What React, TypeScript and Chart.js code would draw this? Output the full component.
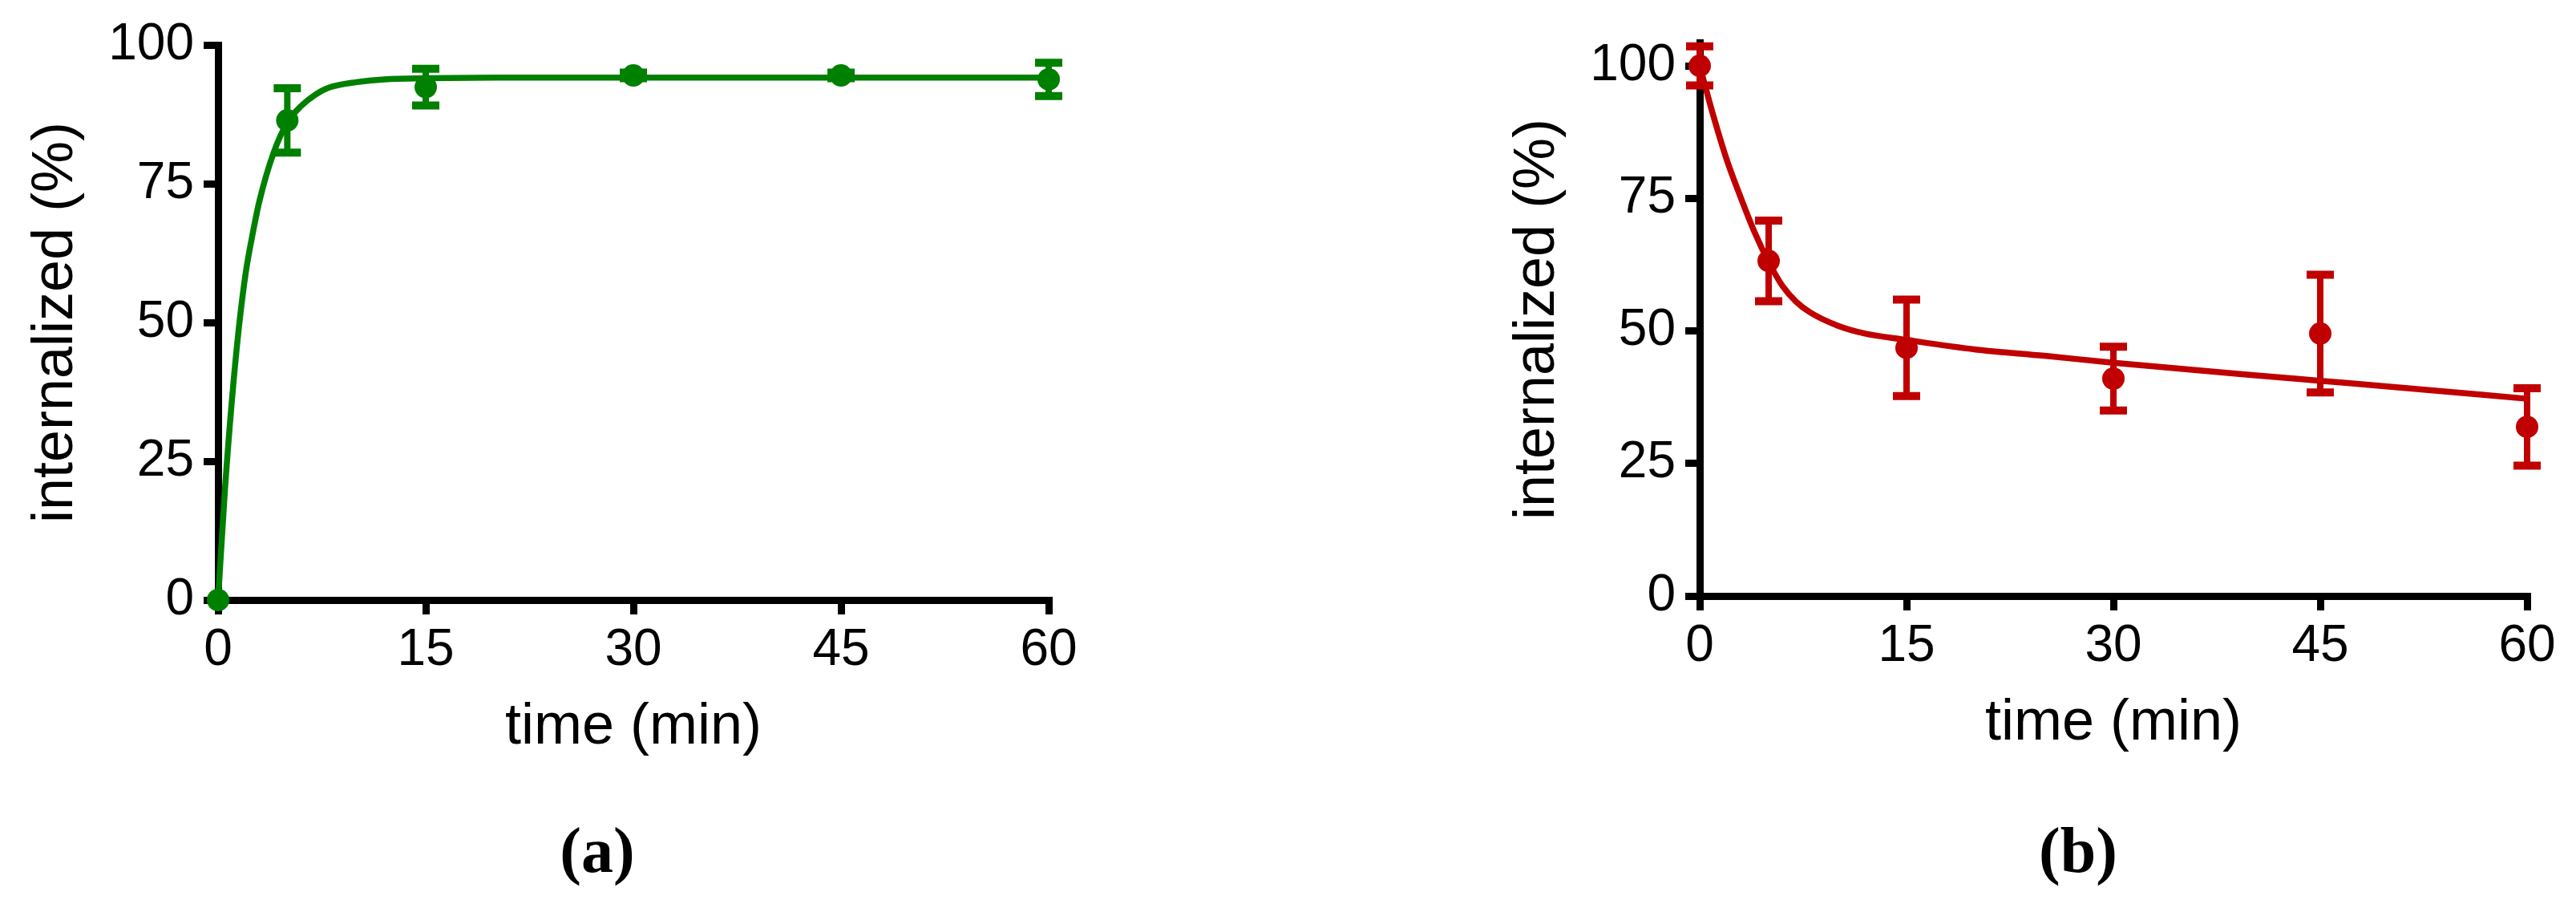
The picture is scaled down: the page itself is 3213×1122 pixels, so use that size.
import React, { useEffect, useRef } from "react";
import { Chart, registerables } from "chart.js";

Chart.register(...registerables);

// ---------- data ----------
const timePoints = [0, 5, 15, 30, 45, 60];

const meanA = [0, 86.4, 92.4, 94.5, 94.5, 93.8];
const semA = [0, 5.8, 3.3, 0.5, 0.5, 3.0];
const fitTimeA = [0, 0.5, 1, 1.5, 2, 2.5, 3, 4, 5, 6, 7, 8, 10, 12, 15, 20, 30, 45, 60];
const fitValA = [0, 20, 36, 49, 59, 66, 72, 80.5, 86, 89, 91, 92.3, 93.3, 93.8, 94, 94.1, 94.1, 94.1, 94.1];

const meanB = [100, 63.2, 46.8, 41, 49.5, 31.9];
const semB = [3.7, 7.6, 9.1, 6.0, 11.1, 7.3];
const fitTimeB = [0, 1, 2, 3, 4, 5, 6, 7, 8, 10, 12, 15, 20, 25, 30, 40, 45, 50, 60];
const fitValB = [100, 90.5, 82, 75, 68.5, 63, 58.5, 55.5, 53.5, 51, 49.5, 48.3, 46.5, 45.3, 44, 41.7, 40.6, 39.5, 37.2];

const xTicks = [0, 15, 30, 45, 60];
const yTicks = [0, 25, 50, 75, 100];

const xTitle = "time (min)";
const yTitle = "internalized (%)";

const GREEN = "#008000";
const RED = "#C00000";
const FONT = "'Liberation Sans', Arial, sans-serif";

type PanelProps = {
  width: number;
  height: number;
  means: number[];
  sems: number[];
  fitT: number[];
  fitV: number[];
  color: string;
  yMax: number;
  padTop: number;
  padRight: number;
  yAxisWidth: number;
  xAxisHeight: number;
};

const errorBarPlugin = {
  id: "errorBars",
  afterDatasetsDraw(chart: any) {
    const cfg = chart.options.plugins.errorBars;
    if (!cfg) return;
    const { ctx, scales } = chart;
    const xs = scales.x;
    const ys = scales.y;
    ctx.save();
    ctx.strokeStyle = cfg.color;
    ctx.lineCap = "butt";
    cfg.x.forEach((t: number, i: number) => {
      const e = cfg.err[i];
      if (!e) return;
      const px = xs.getPixelForValue(t);
      const top = ys.getPixelForValue(cfg.y[i] + e);
      const bot = ys.getPixelForValue(cfg.y[i] - e);
      ctx.lineWidth = 8;
      ctx.beginPath();
      ctx.moveTo(px, top);
      ctx.lineTo(px, bot);
      ctx.stroke();
      ctx.lineWidth = 10;
      ctx.beginPath();
      ctx.moveTo(px - 17, top);
      ctx.lineTo(px + 17, top);
      ctx.moveTo(px - 17, bot);
      ctx.lineTo(px + 17, bot);
      ctx.stroke();
    });
    ctx.restore();
  },
};

function Panel(props: PanelProps) {
  const ref = useRef<HTMLCanvasElement | null>(null);
  useEffect(() => {
    if (!ref.current) return;
    const p = props;
    const axisCommon = {
      border: { display: true, color: "#000", width: 9 },
      grid: {
        display: true,
        drawOnChartArea: false,
        drawTicks: true,
        tickLength: 18,
        color: "#000",
        lineWidth: 9,
        tickWidth: 9,
      },
    };
    const chart = new Chart(ref.current, {
      type: "scatter",
      data: {
        datasets: [
          {
            type: "line",
            data: p.fitT.map((t, i) => ({ x: t, y: p.fitV[i] })),
            borderColor: p.color,
            borderWidth: 7.5,
            pointRadius: 0,
            fill: false,
            cubicInterpolationMode: "monotone",
            clip: false,
            order: 2,
          } as any,
          {
            type: "scatter",
            data: timePoints.map((t, i) => ({ x: t, y: p.means[i] })),
            backgroundColor: p.color,
            borderColor: p.color,
            pointRadius: 14,
            radius: 14,
            pointBorderWidth: 0,
            clip: false,
            order: 1,
          } as any,
        ],
      },
      options: {
        animation: false,
        responsive: false,
        maintainAspectRatio: false,
        devicePixelRatio: 1,
        layout: { padding: { top: p.padTop, right: p.padRight, left: 0, bottom: 0 } },
        plugins: {
          legend: { display: false },
          tooltip: { enabled: false },
          errorBars: { x: timePoints, y: p.means, err: p.sems, color: p.color },
        } as any,
        scales: {
          x: {
            type: "linear",
            min: 0,
            max: 60,
            ...axisCommon,
            afterBuildTicks: (s: any) => {
              s.ticks = xTicks.map((v) => ({ value: v }));
            },
            afterFit: (s: any) => {
              s.height = p.xAxisHeight;
            },
            ticks: {
              color: "#000",
              font: { family: FONT, size: 64 },
              padding: 7,
              maxRotation: 0,
              autoSkip: false,
            },
            title: {
              display: true,
              text: xTitle,
              color: "#000",
              font: { family: FONT, size: 72 },
              padding: { top: 0, bottom: 0 },
            },
          },
          y: {
            type: "linear",
            min: 0,
            max: p.yMax,
            ...axisCommon,
            afterBuildTicks: (s: any) => {
              s.ticks = yTicks.map((v) => ({ value: v }));
            },
            afterFit: (s: any) => {
              s.width = p.yAxisWidth;
            },
            ticks: {
              color: "#000",
              font: { family: FONT, size: 64 },
              padding: 12,
              autoSkip: false,
            },
            title: {
              display: true,
              text: yTitle,
              color: "#000",
              font: { family: FONT, size: 72 },
              padding: { top: 27, bottom: 0 },
            },
          },
        },
      } as any,
      plugins: [errorBarPlugin],
    });
    return () => chart.destroy();
  }, []);
  return (
    <canvas
      ref={ref}
      width={props.width}
      height={props.height}
      style={{ display: "block", width: props.width, height: props.height }}
    />
  );
}

export default function App() {
  useEffect(() => {
    document.body.style.margin = "0";
    document.body.style.overflow = "hidden";
  }, []);
  const labelStyle: React.CSSProperties = {
    position: "absolute",
    top: 1020,
    width: 200,
    textAlign: "center",
    fontFamily: "'Liberation Serif', 'Times New Roman', serif",
    fontWeight: "bold",
    fontSize: 80,
    lineHeight: "80px",
    color: "#000",
  };
  return (
    <div style={{ position: "absolute", left: 0, top: 0, width: 3213, height: 1122, background: "#fff" }}>
      <div style={{ position: "absolute", left: 0, top: 0, width: 1500, height: 950 }}>
        <Panel
          width={1500}
          height={950}
          means={meanA}
          sems={semA}
          fitT={fitTimeA}
          fitV={fitValA}
          color={GREEN}
          yMax={100}
          padTop={56}
          padRight={192}
          yAxisWidth={272}
          xAxisHeight={202}
        />
      </div>
      <div style={{ position: "absolute", left: 1848, top: 0, width: 1365, height: 945 }}>
        <Panel
          width={1365}
          height={945}
          means={meanB}
          sems={semB}
          fitT={fitTimeB}
          fitV={fitValB}
          color={RED}
          yMax={104.4}
          padTop={53}
          padRight={61}
          yAxisWidth={272}
          xAxisHeight={202}
        />
      </div>
      <div style={{ ...labelStyle, left: 645 }}>
        (<span>a</span>)
      </div>
      <div style={{ ...labelStyle, left: 2492 }}>
        (<span>b</span>)
      </div>
    </div>
  );
}
